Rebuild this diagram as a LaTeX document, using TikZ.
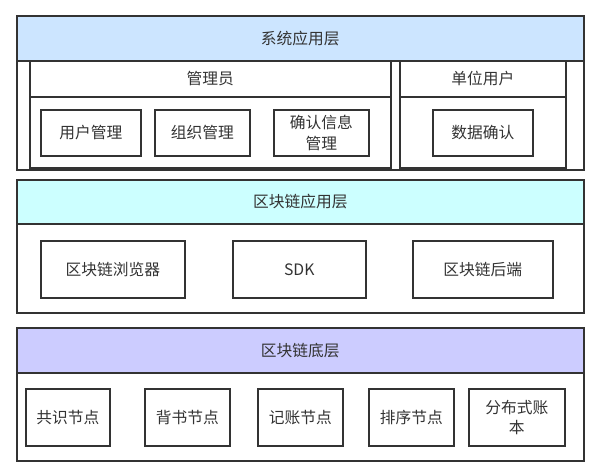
\documentclass[tikz,border=0pt]{standalone}
\usepackage{fontspec}
\setmainfont{Noto Sans CJK SC}
\usepackage{xcolor}
\usetikzlibrary{positioning}
\definecolor{sysblue}{HTML}{CCE5FF}
\definecolor{chaincyan}{HTML}{CCFFFF}
\definecolor{baseviolet}{HTML}{CCCCFF}
\definecolor{linegray}{HTML}{333333}

\begin{document}
\begin{tikzpicture}[x=1bp, y=-1bp,
                    every node/.append style = {anchor = north west, inner sep = 0pt,
                                                text = linegray, font = \fontsize{15.8}{20.5}\selectfont},
                    box/.style = {draw = linegray, line width = 1.6bp, align = center},
                    layerhead/.style = {box, minimum width = 567bp}]
    \useasboundingbox (0,0) rectangle (595,469);
    % system application layer
    \node[layerhead, fill = sysblue, minimum height = 45bp] (sys) at (16,15) {系统应用层};
    \node[box, minimum width = 567bp, minimum height = 109bp] (sysbody) at (16,60) {};
    \node[box, minimum width = 361bp, minimum height = 36bp] (admin) at (29,60) {管理员};
    \node[box, minimum width = 361bp, minimum height = 71bp] (adminbody) at (29,96) {};
    \node[box, minimum width = 166bp, minimum height = 36bp] (unit) at (399,60) {单位用户};
    \node[box, minimum width = 166bp, minimum height = 71bp] (unitbody) at (399,96) {};
    \node[box, minimum width = 100bp, minimum height = 46bp] (usermgr) at (40,109) {用户管理};
    \node[box, minimum width = 95bp, minimum height = 46bp] (orgmgr) at (154,109) {组织管理};
    \node[box, minimum width = 95bp, minimum height = 46bp] (infomgr) at (273,109) {确认信息\\管理};
    \node[box, minimum width = 100bp, minimum height = 46bp] (dataok) at (432,109) {数据确认};
    % blockchain application layer
    \node[layerhead, fill = chaincyan, minimum height = 44bp] (app) at (16,179) {区块链应用层};
    \node[box, minimum width = 567bp, minimum height = 89bp] (appbody) at (16,223) {};
    \node[box, minimum width = 144bp, minimum height = 57bp] (browser) at (40,240) {区块链浏览器};
    \node[box, minimum width = 133bp, minimum height = 57bp] (sdk) at (232,240) {SDK};
    \node[box, minimum width = 140bp, minimum height = 57bp] (backend) at (412,240) {区块链后端};
    % blockchain base layer
    \node[layerhead, fill = baseviolet, minimum height = 45bp] (base) at (16,327) {区块链底层};
    \node[box, minimum width = 567bp, minimum height = 88bp] (basebody) at (16,372) {};
    \node[box, minimum width = 84bp, minimum height = 57bp] (consensus) at (25,388) {共识节点};
    \node[box, minimum width = 85bp, minimum height = 57bp] (endorse) at (144,388) {背书节点};
    \node[box, minimum width = 85bp, minimum height = 57bp] (commit) at (257,388) {记账节点};
    \node[box, minimum width = 85bp, minimum height = 57bp] (order) at (368,388) {排序节点};
    \node[box, minimum width = 96bp, minimum height = 57bp] (ledger) at (468,388) {分布式账\\本};
\end{tikzpicture}
\end{document}
